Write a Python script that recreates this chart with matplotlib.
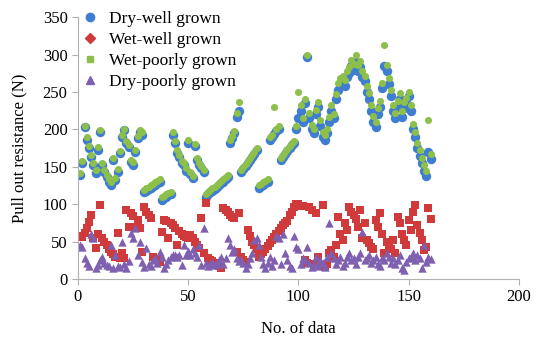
import numpy as np
import matplotlib
matplotlib.use("Agg")
import matplotlib.pyplot as plt
from matplotlib.lines import Line2D

plt.rcParams['font.family']=['Liberation Serif','DejaVu Serif']

# values, data index 1..160
dry_well=[139,155,203,186,175,163,152,142,172,196,
          152,143,136,130,126,159,132,143,168,190,
          199,182,176,156,152,170,188,196,193,116,
          118,120,122,124,126,128,130,106,108,110,
          112,113,193,182,168,163,155,152,145,182,
          140,135,178,159,152,148,143,110,113,116,
          118,120,123,125,128,130,133,136,182,188,
          195,217,225,143,147,151,155,159,163,167,
          172,122,124,126,128,130,186,190,194,198,
          201,159,163,167,171,175,179,182,200,215,
          225,210,235,297,215,200,195,220,230,205,
          190,186,195,210,225,215,240,253,260,265,
          258,270,275,285,280,290,278,283,270,265,
          250,240,225,210,203,220,230,255,285,278,
          260,245,225,215,230,240,217,228,235,245,
          225,200,190,175,165,155,145,138,170,160]
wet_poorly=[142,158,205,190,178,166,155,146,176,199,
            155,146,139,133,129,162,135,147,171,193,
            201,185,179,159,156,173,191,199,196,119,
            121,123,125,127,129,131,133,109,111,113,
            115,116,196,185,172,166,158,155,148,186,
            143,138,181,162,155,151,146,113,116,119,
            121,123,126,128,131,133,136,139,186,191,
            198,222,237,146,150,154,158,162,166,170,
            175,125,127,129,131,133,190,193,230,201,
            204,162,166,170,174,178,182,185,205,250,
            232,215,240,300,222,206,201,226,236,212,
            196,192,201,217,232,221,247,262,268,272,
            266,278,283,293,288,300,286,291,278,272,
            258,248,232,218,210,228,238,262,313,286,
            268,252,232,222,238,248,224,236,242,250,
            232,207,196,182,172,162,152,145,212,167]
wet_well=[58,56,62,68,76,86,55,41,60,99,
          55,50,45,40,36,33,30,61,28,35,
          28,92,70,88,84,70,79,68,36,96,
          90,85,81,29,27,25,23,63,79,77,
          55,75,72,68,45,64,60,58,56,55,
          59,55,50,45,41,81,35,101,28,26,
          24,22,20,18,15,95,92,89,86,83,
          81,36,88,30,26,23,65,58,50,45,
          40,30,33,36,40,44,48,52,56,60,
          64,68,72,75,78,85,90,96,100,100,
          98,97,25,22,96,92,20,88,30,18,
          99,16,20,35,39,30,45,83,60,52,
          75,65,96,90,85,80,70,92,55,75,
          52,48,43,40,79,70,88,60,35,50,
          45,40,52,35,83,75,60,52,45,79,
          66,90,99,72,61,52,39,43,95,80]
dry_poorly=[45,43,28,22,18,60,55,15,19,25,
            30,22,19,17,45,15,32,18,16,49,
            20,15,24,62,55,68,32,50,23,16,
            41,20,18,25,28,22,36,30,15,20,
            25,30,32,32,30,32,19,45,32,38,
            32,40,35,30,45,19,68,22,18,20,
            23,19,22,26,30,20,28,55,45,36,
            40,28,24,25,22,15,20,28,35,52,
            55,45,30,20,15,22,30,18,25,58,
            55,20,60,35,25,18,15,58,43,40,
            20,28,25,43,22,16,20,30,18,25,
            22,16,30,75,35,28,20,25,30,18,
            22,30,35,25,28,20,30,35,63,25,
            28,32,22,25,30,20,18,28,25,35,
            30,22,28,20,25,32,15,12,23,28,
            30,35,25,32,28,15,45,23,30,27]
labels=["Dry-well grown","Wet-well grown","Wet-poorly grown","Dry-poorly grown"]

c_blue="#3f7dd0";c_red="#d03a3a";c_green="#8cc04a";c_purple="#7e5fb0"
x=np.arange(1,len(dry_well)+1)

fig=plt.figure(figsize=(5.36,3.43),dpi=100)
ax=fig.add_axes([0.1455,0.1866,0.8225,0.7634])
ax.scatter(x,dry_well,s=46,marker='o',color=c_blue,lw=0)
ax.scatter(x,wet_well,s=32,marker='s',color=c_red,lw=0)
ax.scatter(x,wet_poorly,s=26,marker='o',color=c_green,lw=0)
ax.scatter(x,dry_poorly,s=36,marker='^',color=c_purple,lw=0)

ax.set_xlim(0,200);ax.set_ylim(0,350)
ax.set_xticks([0,50,100,150,200]);ax.set_yticks(range(0,351,50))
for s in ["top","right"]: ax.spines[s].set_visible(False)
for s in ["left","bottom"]: ax.spines[s].set_color("#b0b0b0")
ax.tick_params(colors="#b0b0b0",labelcolor="black",labelsize=12,length=4)
ax.set_xlabel("No. of data",fontsize=12,labelpad=11)
ax.set_ylabel("Pull out resistance (N)",fontsize=12,labelpad=11)

h=[Line2D([],[],ls='',marker='o',ms=6,color=c_blue),
   Line2D([],[],ls='',marker='D',ms=5,color=c_red),
   Line2D([],[],ls='',marker='s',ms=4,color=c_green),
   Line2D([],[],ls='',marker='^',ms=6,color=c_purple)]
fig.legend(h,labels,loc="upper left",bbox_to_anchor=(0.126,1.005),frameon=False,
           fontsize=12.5,handletextpad=0.5,labelspacing=0.28,borderpad=0.2,handlelength=1.2)
fig.savefig("out.png",dpi=100)
